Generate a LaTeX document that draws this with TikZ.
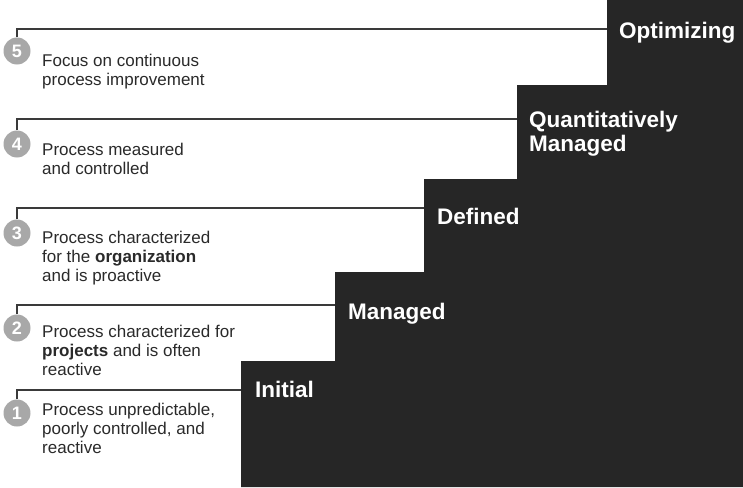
\documentclass[tikz,border=0pt]{standalone}
\usepackage{fontspec}
\setmainfont{Liberation Sans}
\definecolor{stairgray}{HTML}{262626}
\definecolor{circlegray}{HTML}{A8A8A8}
\definecolor{linegray}{HTML}{3A3A3A}
\definecolor{textgray}{HTML}{2A2A2A}
\begin{document}
\begin{tikzpicture}[x=1pt,y=-1pt,
  stairs/.style={fill=stairgray, draw=none},
  lvl/.style={circle, fill=circlegray, text=white, font=\fontsize{18}{18}\selectfont\bfseries, minimum size=27pt, inner sep=0pt},
  desc/.style={anchor=north west, inner sep=0pt, align=left, text=textgray, font=\fontsize{17}{19}\selectfont},
  stage/.style={anchor=base west, inner sep=0pt, align=left, text=white, font=\fontsize{22.5}{24}\selectfont\bfseries},
  stageml/.style={stage, anchor=north west},
  conn/.style={draw=linegray, line width=1.6pt}]
\useasboundingbox (0,0) rectangle (743,487);
\fill[white] (0,0) rectangle (743,487);

% staircase
\fill[stairs] (241,487) -- (241,361) -- (335,361) -- (335,272) -- (424,272)
  -- (424,179) -- (517,179) -- (517,85) -- (607,85) -- (607,0) -- (743,0)
  -- (743,487) -- cycle;

% edge points of the steps
\coordinate (e5) at (607,29);
\coordinate (e4) at (517,119);
\coordinate (e3) at (424,208);
\coordinate (e2) at (335,305);
\coordinate (e1) at (241,390);

% level circles
\node[lvl] (c5) at (17,51) {5};
\node[lvl] (c4) at (17,144) {4};
\node[lvl] (c3) at (17,233) {3};
\node[lvl] (c2) at (17,328) {2};
\node[lvl] (c1) at (17,413) {1};

% connectors
\draw[conn] (c5.north) |- (e5);
\draw[conn] (c4.north) |- (e4);
\draw[conn] (c3.north) |- (e3);
\draw[conn] (c2.north) |- (e2);
\draw[conn] (c1.north) |- (e1);

% descriptions
\node[desc] (d5) at (42,53.8) {Focus on continuous\\process improvement};
\node[desc] (d4) at (42,142.8) {Process measured\\and controlled};
\node[desc] (d3) at (42,230.8) {Process characterized\\for the \textbf{organization}\\and is proactive};
\node[desc] (d2) at (42,324.8) {Process characterized for\\\textbf{projects} and is often\\reactive};
\node[desc] (d1) at (42,402.8) {Process unpredictable,\\poorly controlled, and\\reactive};

% stage labels
\node[stage] (s5) at (619,38) {Optimizing};
\node[stageml] (s4) at (529,111) {Quantitatively\\Managed};
\node[stage] (s3) at (437,224) {Defined};
\node[stage] (s2) at (348,319) {Managed};
\node[stage] (s1) at (255,397) {Initial};
\end{tikzpicture}
\end{document}
